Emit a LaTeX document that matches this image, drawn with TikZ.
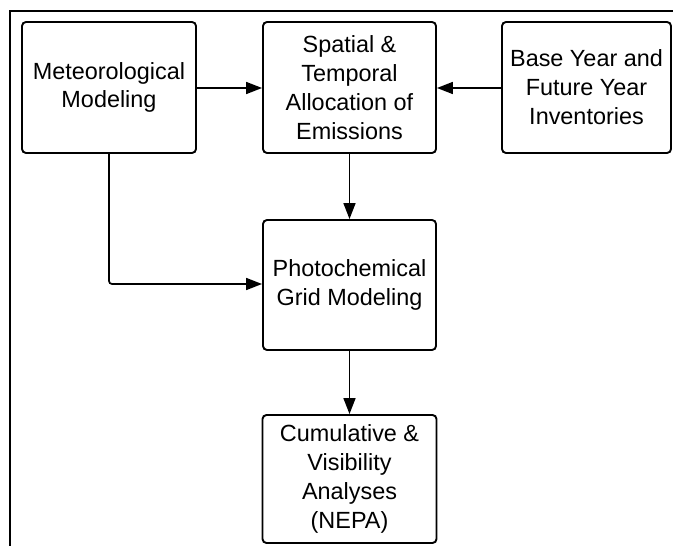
\documentclass[tikz,border=0pt]{standalone}
\usepackage{fontspec}
\setmainfont{Liberation Sans}
\usetikzlibrary{arrows.meta}
\begin{document}
\begin{tikzpicture}[x=1bp,y=-1bp,
  boxstyle/.style={draw, line width=1.9bp, rounded corners=4bp, align=center,
    font=\fontsize{23.5}{29}\selectfont, inner sep=0pt},
  conn/.style={line width=1.7bp, -{Triangle[length=16bp,width=12bp]}},
  frameline/.style={line width=2bp}]
\useasboundingbox (0,0) rectangle (673,546);
\fill[white] (0,0) rectangle (673,546);
\draw[frameline] (9.5,546) -- (9.5,11) -- (673,11);
\node[boxstyle, minimum width=174bp, minimum height=131bp] (met) at (109,87.5) {Meteorological\\Modeling};
\node[boxstyle, minimum width=173bp, minimum height=131bp] (spat) at (349.5,87.5) {Spatial \&\\Temporal\\Allocation of\\Emissions};
\node[boxstyle, minimum width=169bp, minimum height=131bp] (base) at (586.5,87.5) {Base Year and\\Future Year\\Inventories};
\node[boxstyle, minimum width=173bp, minimum height=130bp] (photo) at (349.5,285) {Photochemical\\Grid Modeling};
\node[boxstyle, minimum width=174bp, minimum height=128bp] (cum) at (349.5,479) {Cumulative \&\\Visibility\\Analyses\\(NEPA)};
\draw[conn] (met.east |- 0,88) -- (spat.west |- 0,88);
\draw[conn] (base.west |- 0,88) -- (spat.east |- 0,88);
\draw[conn] (spat.south) -- (photo.north);
\draw[conn] (photo.south) -- (cum.north);
\draw[conn, rounded corners=3bp] (met.south) -- (109,284) -- (photo.west |- 0,284);
\end{tikzpicture}
\end{document}
